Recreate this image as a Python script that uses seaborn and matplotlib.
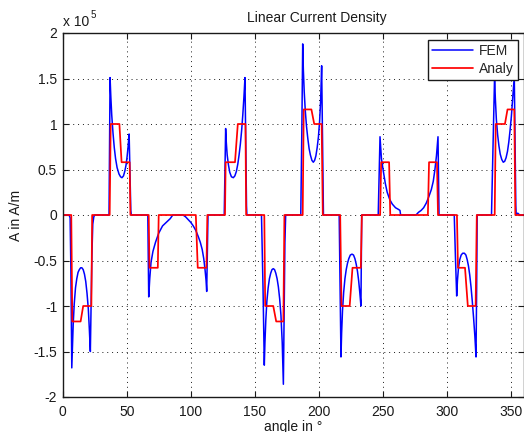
import numpy as np
import pandas as pd
import matplotlib
matplotlib.use("Agg")
import matplotlib.pyplot as plt
import seaborn as sns
from matplotlib.ticker import FixedLocator, FuncFormatter

nan = np.nan

# FEM linear current density (angle in deg, value in 1e5 A/m)
fem_angle = [0, 5.0, 5.8, 6.4, 7.1, 7.6, 8.2, 9, 10, 11, 12, 13, 14, 15, 16, 17, 18, 19, 20, 20.8, 21.6, 22.2, 22.8, 23.5, 24.3, 25,
             36.2, 36.6, 37.0, 37.6, 38.3, 39.3, 40.3, 41.3, 42.5, 44, 45.2, 46.3, 47.5, 48.5, 49.5, 50.3, 51.1, 51.9, 52.5, 53.2, 53.6,
             66.5, 67.2, 67.6, 68, 69, 70.5, 72.5, 75, 78, 81, 84, 86,
             94, 96, 98, 100, 102, 104, 106, 107.5, 109, 110.2, 111.2, 112, 112.5, 113, 113.5,
             126.2, 126.8, 127.3, 127.8, 128.5, 129.5, 130.5, 131.8, 133.3, 134.5, 135.7, 136.8, 137.8, 138.8, 139.8, 140.7, 141.6, 142.4, 143.0, 143.6, 143.9,
             155.3, 156.5, 157.5, 158.0, 158.7, 159.5, 160.5, 161.5, 162.5, 163.5, 164.5, 165.5, 166.5, 167.5, 168.5, 169.5, 170.5, 171.5, 172.4, 173.0, 173.6, 174.2,
             186.0, 186.8, 187.5, 188.0, 188.7, 189.5, 190.5, 191.5, 192.5, 193.5, 194.7, 195.8, 196.8, 197.8, 198.8, 199.8, 200.7, 201.5, 202.3, 202.9, 203.4, 203.7,
             216.0, 216.7, 217.4, 217.9, 218.6, 219.5, 220.5, 221.5, 222.5, 223.5, 224.7, 226.0, 227.2, 228.3, 229.3, 230.3, 231.2, 232.1, 233.0, 233.1, 233.6,
             246.5, 247.9, 249, 250.5, 252, 253.5, 255.5, 257.5, 260, 262.5, 263.5, 264,
             276, 278, 280, 282, 284, 286, 288, 289.5, 290.8, 292, 293.2, 294,
             305.9, 306.8, 307.8, 308.4, 309.2, 310.2, 311.3, 312.5, 313.8, 315, 316, 317, 318, 319, 320, 321, 322, 322.9, 323.4, 323.8,
             335.0, 336.2, 337.4, 338.0, 338.8, 339.8, 340.8, 341.8, 343, 344.2, 345.3, 346.4, 347.5, 348.5, 349.5, 350.5, 351.5, 352.2, 352.8, 353.4, 354.0, 354.3, 355.5, 357, 360]
fem_value = [0, 0, -0.03, -0.6, -1.68, -1.45, -1.2, -0.98, -0.8, -0.7, -0.63, -0.6, -0.58, -0.58, -0.6, -0.65, -0.73, -0.86, -1.03, -1.25, -1.5, -1.0, -0.45, -0.1, -0.02, 0,
             0, 0.8, 1.51, 1.3, 1.1, 0.9, 0.74, 0.62, 0.52, 0.45, 0.42, 0.41, 0.43, 0.48, 0.55, 0.64, 0.75, 0.89, 0.5, 0.05, 0,
             0, -0.9, -0.8, -0.7, -0.52, -0.4, -0.3, -0.2, -0.12, -0.08, -0.04, 0,
             0, -0.02, -0.05, -0.08, -0.12, -0.17, -0.24, -0.3, -0.38, -0.48, -0.6, -0.72, -0.84, -0.4, 0,
             0, 0.5, 0.95, 0.8, 0.66, 0.55, 0.47, 0.42, 0.41, 0.43, 0.48, 0.56, 0.66, 0.78, 0.93, 1.1, 1.3, 1.51, 0.8, 0.1, 0,
             0, -0.8, -1.65, -1.4, -1.15, -0.95, -0.8, -0.7, -0.64, -0.6, -0.59, -0.6, -0.64, -0.7, -0.79, -0.92, -1.1, -1.4, -1.86, -1.1, -0.3, 0,
             0, 0.9, 1.88, 1.6, 1.35, 1.15, 0.97, 0.84, 0.73, 0.66, 0.6, 0.58, 0.6, 0.65, 0.74, 0.86, 1.03, 1.25, 1.64, 0.9, 0.2, 0,
             0, -0.8, -1.56, -1.3, -1.05, -0.85, -0.7, -0.6, -0.53, -0.48, -0.44, -0.43, -0.44, -0.48, -0.54, -0.62, -0.72, -0.85, -1.0, nan, 0,
             0, 0.86, 0.62, 0.48, 0.35, 0.25, 0.17, 0.12, 0.08, 0.06, 0.05, 0,
             0, 0.03, 0.05, 0.08, 0.13, 0.2, 0.28, 0.37, 0.5, 0.65, 0.86, 0,
             0, -0.45, -0.89, -0.72, -0.58, -0.49, -0.44, -0.42, -0.42, -0.44, -0.49, -0.56, -0.66, -0.79, -0.95, -1.13, -1.33, -1.56, -0.8, 0,
             0, 0.75, 1.52, 1.28, 1.05, 0.88, 0.76, 0.67, 0.61, 0.58, 0.59, 0.63, 0.7, 0.8, 0.93, 1.08, 1.27, 1.4, 1.52, 0.8, 0.1, 0, 0.02, 0, 0]

# Analytical linear current density
analy_angle = [0, 6.7, 7.5, 14.0, 16.0, 22.4, 23.0,
               36.7, 37.5, 44.3, 46.0, 52.3, 52.9,
               67.2, 67.8, 74.3, 75.0,
               104.0, 105.5, 112.3, 113.0,
               126.8, 127.3, 134.6, 136.8, 142.8, 143.3,
               157.5, 158.2, 164.5, 166.8, 172.4, 173.2,
               187.5, 188.3, 194.3, 196.5, 202.3, 203.2,
               216.8, 217.8, 224.2, 226.4, 232.9, 233.7,
               248.0, 248.8, 255.0, 255.9,
               285.3, 286.2, 292.4, 293.2,
               308.0, 308.8, 314.3, 316.5, 322.6, 323.5,
               337.5, 338.3, 345.5, 347.5, 352.8, 353.6, 360]
analy_value = [0, 0, -1.17, -1.17, -1.0, -1.0, 0,
               0, 1.0, 1.0, 0.58, 0.58, 0,
               0, -0.58, -0.58, 0,
               0, -0.58, -0.58, 0,
               0, 0.58, 0.58, 1.0, 1.0, 0,
               0, -1.0, -1.0, -1.17, -1.17, 0,
               0, 1.16, 1.16, 1.0, 1.0, 0,
               0, -1.0, -1.0, -0.58, -0.58, 0,
               0, 0.58, 0.58, 0,
               0, 0.58, 0.58, 0,
               0, -0.58, -0.58, -1.0, -1.0, 0,
               0, 1.0, 1.0, 1.16, 1.16, 0, 0]

series_labels = ["FEM", "Analy"]
x_ticks = [0, 50, 100, 150, 200, 250, 300, 350]
y_ticks = [-2, -1.5, -1, -0.5, 0, 0.5, 1, 1.5, 2]

sns.set_theme(style="white")
plt.rcParams["font.family"] = ["Liberation Sans", "DejaVu Sans"]
plt.rcParams["axes.unicode_minus"] = False

W, H = 524, 432
fig = plt.figure(figsize=(W / 100, H / 100), dpi=100)
L, R, T, B = 62.7, 523.5, 33, 397
ax = fig.add_axes([L / W, 1 - B / H, (R - L) / W, (B - T) / H])

sns.lineplot(x=fem_angle, y=fem_value, ax=ax, color="#0000ff", linewidth=1.1,
             estimator=None, sort=False, label=series_labels[0])
sns.lineplot(x=analy_angle, y=analy_value, ax=ax, color="#ff0000", linewidth=1.25,
             estimator=None, sort=False, label=series_labels[1])

ax.set_xlim(0, 360)
ax.set_ylim(-2, 2)
ax.xaxis.set_major_locator(FixedLocator(x_ticks))
ax.yaxis.set_major_locator(FixedLocator(y_ticks))
ax.yaxis.set_major_formatter(FuncFormatter(lambda v, p: f"{v:g}"))
ax.xaxis.set_major_formatter(FuncFormatter(lambda v, p: f"{v:g}"))

ax.grid(True, color="k", linestyle=(0, (1, 4)), linewidth=0.7)
ax.set_axisbelow(True)
ax.tick_params(direction="in", top=True, right=True, bottom=True, left=True,
               length=4, width=0.8, colors="k", labelsize=10)
ax.tick_params(axis="x", pad=6)
ax.tick_params(axis="y", pad=4)
for s in ax.spines.values():
    s.set_visible(True)
    s.set_color("k")
    s.set_linewidth(1.0)

ax.set_xlabel("angle in °", fontsize=10, color="k")
ax.set_ylabel("A in A/m", fontsize=10, color="k")
ax.xaxis.set_label_coords(0.5, -(419.5 - B) / (B - T))
ax.yaxis.set_label_coords((23 - L) / (R - L), 0.5)
ax.set_title("Linear Current Density", fontsize=10, color="k",
             x=(317 - L) / (R - L), pad=8)

fig.text(63 / W, 1 - 26 / H, "x 10", fontsize=10, ha="left", va="baseline", color="k")
fig.text(91 / W, 1 - 18 / H, "5", fontsize=7, ha="left", va="baseline", color="k")

leg = ax.legend(loc="upper right", bbox_to_anchor=(518 / W, 1 - 40 / H),
                bbox_transform=fig.transFigure, borderaxespad=0, fontsize=10,
                frameon=True, fancybox=False, framealpha=1, edgecolor="k",
                handlelength=3.0, handletextpad=0.4, borderpad=0.3, labelspacing=0.25)
leg.get_frame().set_linewidth(1.0)

fig.savefig("out.png", dpi=100)
